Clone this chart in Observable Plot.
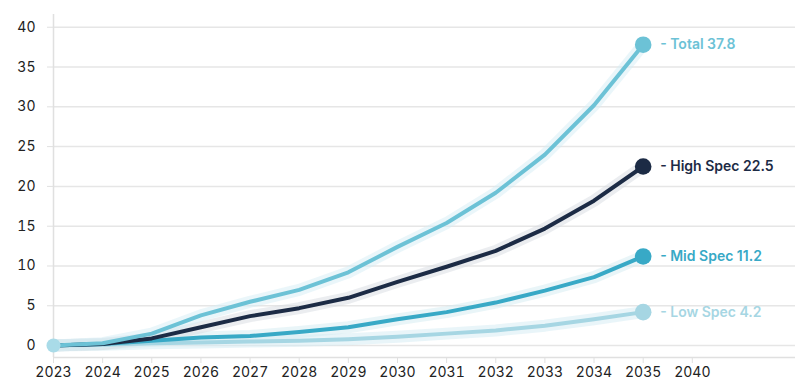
<!DOCTYPE html>
<html>
<head>
<meta charset="utf-8">
<script src="https://cdn.jsdelivr.net/npm/d3@7"></script>
<script src="https://cdn.jsdelivr.net/npm/@observablehq/plot@0.6"></script>
<style>
  html, body { margin: 0; padding: 0; background: #fff; }
  #chart { width: 801px; height: 385px; }
</style>
</head>
<body>
<div id="chart"></div>
<script>
const tickLabels = ["2023","2024","2025","2026","2027","2028","2029","2030","2031","2032","2033","2034","2035","2040"];
const seriesNames = ["Low Spec", "Mid Spec", "High Spec", "Total"];
const lowSpec  = [0, 0.1, 0.3, 0.4, 0.5, 0.6, 0.8, 1.1, 1.5, 1.9, 2.5, 3.3, 4.2];
const midSpec  = [0, 0.2, 0.6, 1.0, 1.2, 1.7, 2.3, 3.3, 4.2, 5.4, 6.9, 8.6, 11.2];
const highSpec = [0, 0.2, 0.9, 2.3, 3.7, 4.7, 6.0, 8.0, 9.9, 11.9, 14.7, 18.2, 22.5];
const total    = [0, 0.3, 1.5, 3.8, 5.5, 7.0, 9.2, 12.4, 15.4, 19.2, 24.0, 30.2, 37.8];
const lineColors = ["#a6d6e3", "#38a9c6", "#1c2b45", "#6cc2d6"];
const haloColors = ["#d3ecf3", "#d3ebf2", "#d8dce2", "#d6eef5"];
const yTicks = [0, 5, 10, 15, 20, 25, 30, 35, 40];

const valuesList = [lowSpec, midSpec, highSpec, total];
const data = seriesNames.flatMap((name, s) =>
  valuesList[s].map((v, i) => ({name, i, v})));
const ends = seriesNames.map((name, s) => {
  const vals = valuesList[s];
  return {name, i: vals.length - 1, v: vals[vals.length - 1], label: `- ${name} ${vals[vals.length - 1]}`};
});
const colorScale = {domain: seriesNames, range: lineColors};

const marks = [
  Plot.ruleY(yTicks, {stroke: "#e6e6e6", strokeWidth: 1.5}),
  Plot.ruleY([-1.5], {stroke: "#e0e0e0", strokeWidth: 1.5}),
  Plot.ruleX([0], {stroke: "#e0e0e0", strokeWidth: 1.5}),
  Plot.axisY({ticks: yTicks, tickSize: 6, tickPadding: 12, stroke: "#e0e0e0", fill: "#222", fontSize: 14, label: null}),
  Plot.axisX({ticks: d3.range(tickLabels.length), tickFormat: i => tickLabels[i], tickSize: 6, tickPadding: 4, stroke: "#e0e0e0", fill: "#222", fontSize: 14, label: null})
];
seriesNames.forEach((name, s) => {
  const sub = data.filter(d => d.name === name);
  marks.push(Plot.line(sub, {x: "i", y: "v", stroke: haloColors[s], strokeWidth: 12, strokeOpacity: 0.5, strokeLinejoin: "round"}));
});
seriesNames.forEach((name, s) => {
  const sub = data.filter(d => d.name === name);
  marks.push(Plot.line(sub, {x: "i", y: "v", stroke: lineColors[s], strokeWidth: 4, strokeLinejoin: "round"}));
});
marks.push(Plot.dot([{i: 0, v: 0}], {x: "i", y: "v", r: 7, fill: "#a9dbe8"}));
marks.push(Plot.dot(ends, {x: "i", y: "v", r: 8.3, fill: "name"}));
marks.push(Plot.text(ends, {x: "i", y: "v", text: "label", fill: "name", dx: 17, textAnchor: "start", fontSize: 14, fontWeight: 600}));

const chart = Plot.plot({
  width: 801,
  height: 385,
  marginLeft: 53,
  marginRight: 6,
  marginTop: 14,
  marginBottom: 28,
  style: {fontFamily: "Inter, 'Noto Sans', sans-serif", background: "#fff"},
  x: {type: "linear", domain: [0, 15.1]},
  y: {domain: [-1.5, 41.6]},
  color: colorScale,
  marks
});
document.getElementById("chart").appendChild(chart);
</script>
</body>
</html>
